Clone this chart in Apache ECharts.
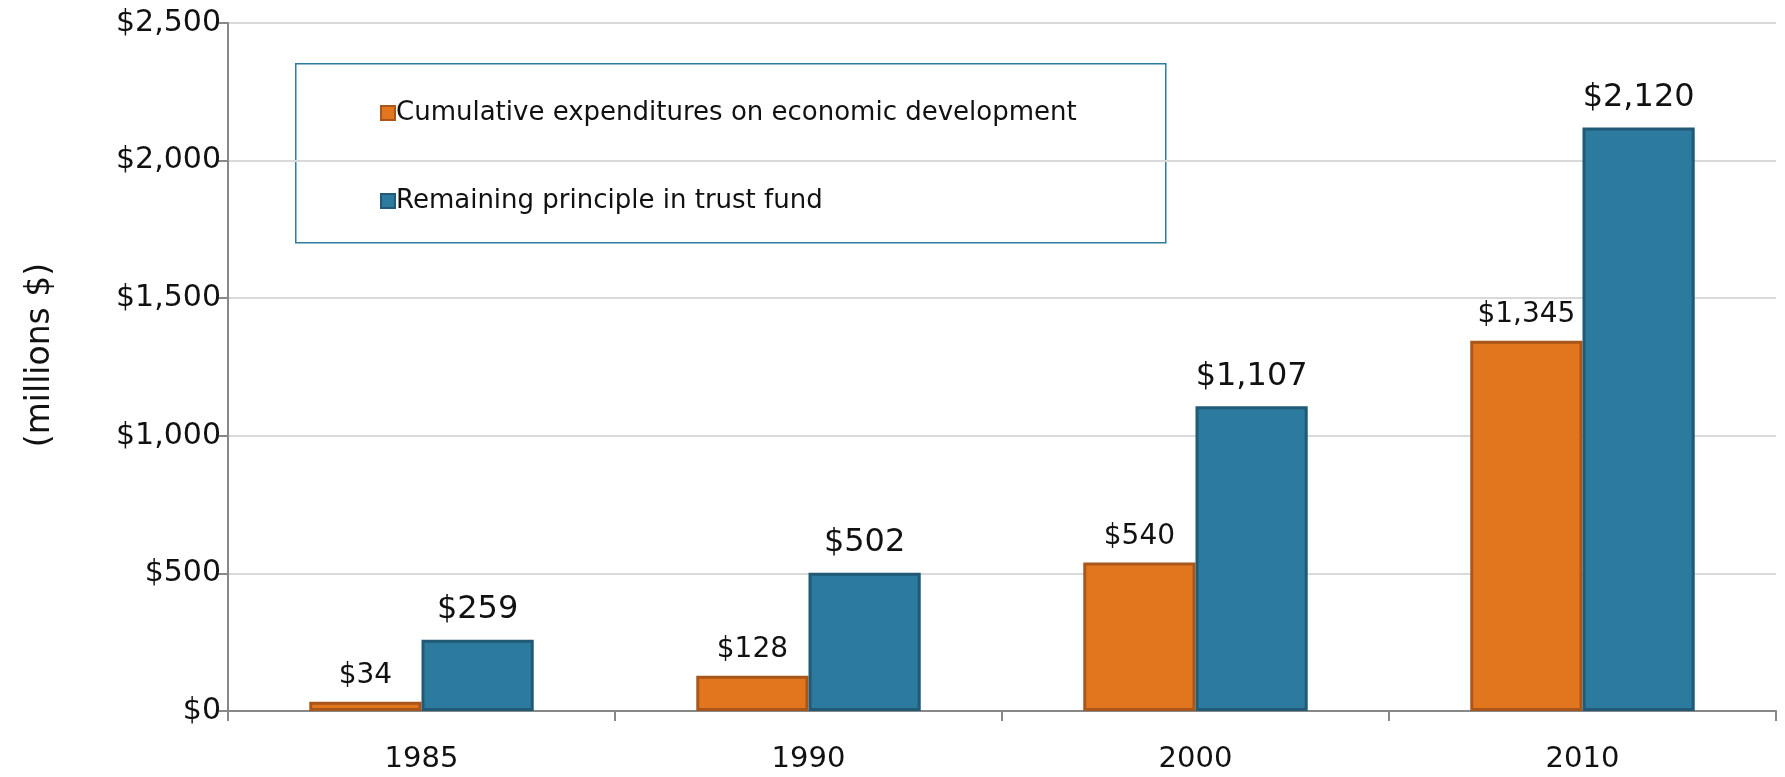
<!DOCTYPE html>
<html>
<head>
<meta charset="utf-8">
<script src="https://cdn.jsdelivr.net/npm/echarts@6/dist/echarts.min.js"></script>
<style>html,body{margin:0;padding:0;background:#fff}#c{width:1785px;height:777px}</style>
</head>
<body>
<div id="c"></div>
<script>
const categories = ['1985', '1990', '2000', '2010'];
const expenditures = [34, 128, 540, 1345];
const principal = [259, 502, 1107, 2120];
const seriesNames = ['Cumulative expenditures on economic development', 'Remaining principle in trust fund'];
const yTicks = [0, 500, 1000, 1500, 2000, 2500];
const yTitle = '(millions $)';

const FONT = 'DejaVu Sans';
const fmt = v => '$' + Number(v).toLocaleString('en-US');
const chart = echarts.init(document.getElementById('c'));
chart.setOption({
  animation: false,
  backgroundColor: '#fff',
  textStyle: { fontFamily: FONT },
  grid: { left: 228, right: 9, top: 23, bottom: 66 },
  graphic: [{
    type: 'rect', left: 295, top: 63, z: 0,
    shape: { width: 870, height: 179 },
    style: { fill: '#fff', stroke: '#2e7ca0', lineWidth: 1.5 }
  }],
  legend: {
    orient: 'vertical', left: 375, top: 95, itemGap: 62,
    icon: 'rect', itemWidth: 14, itemHeight: 14,
    textStyle: { fontFamily: FONT, fontSize: 26, color: '#111', padding: [0, 0, 0, -4] },
    z: 5
  },
  xAxis: {
    type: 'category', data: categories,
    axisLine: { lineStyle: { color: '#888', width: 2 } },
    axisTick: { show: true, length: 10, lineStyle: { color: '#888', width: 2 } },
    axisLabel: { fontSize: 29, color: '#111', margin: 34 }
  },
  yAxis: {
    type: 'value', min: 0, max: 2500, interval: 500,
    name: yTitle, nameLocation: 'middle', nameGap: 171, nameRotate: 90,
    nameTextStyle: { fontSize: 33, color: '#111', fontFamily: FONT, padding: [0, 0, 0, 24] },
    axisLine: { show: true, lineStyle: { color: '#888', width: 2 } },
    axisTick: { show: true, length: 10, lineStyle: { color: '#888', width: 2 } },
    axisLabel: { fontSize: 30, color: '#111', margin: 7, formatter: v => yTicks.includes(v) ? fmt(v) : '' },
    splitLine: { lineStyle: { color: '#d9d9d9', width: 2 } }
  },
  series: [{
    name: seriesNames[0], type: 'bar', data: expenditures,
    barGap: '0%', barCategoryGap: '42%',
    itemStyle: { color: '#e2761f', borderColor: '#a9561a', borderWidth: 3 },
    label: { show: true, position: 'top', distance: 12, fontSize: 28, color: '#111', formatter: p => fmt(p.value) }
  }, {
    name: seriesNames[1], type: 'bar', data: principal,
    itemStyle: { color: '#2c7a9e', borderColor: '#205a76', borderWidth: 3 },
    label: { show: true, position: 'top', distance: 14, fontSize: 32, color: '#111', formatter: p => fmt(p.value) }
  }]
});
</script>
</body>
</html>
